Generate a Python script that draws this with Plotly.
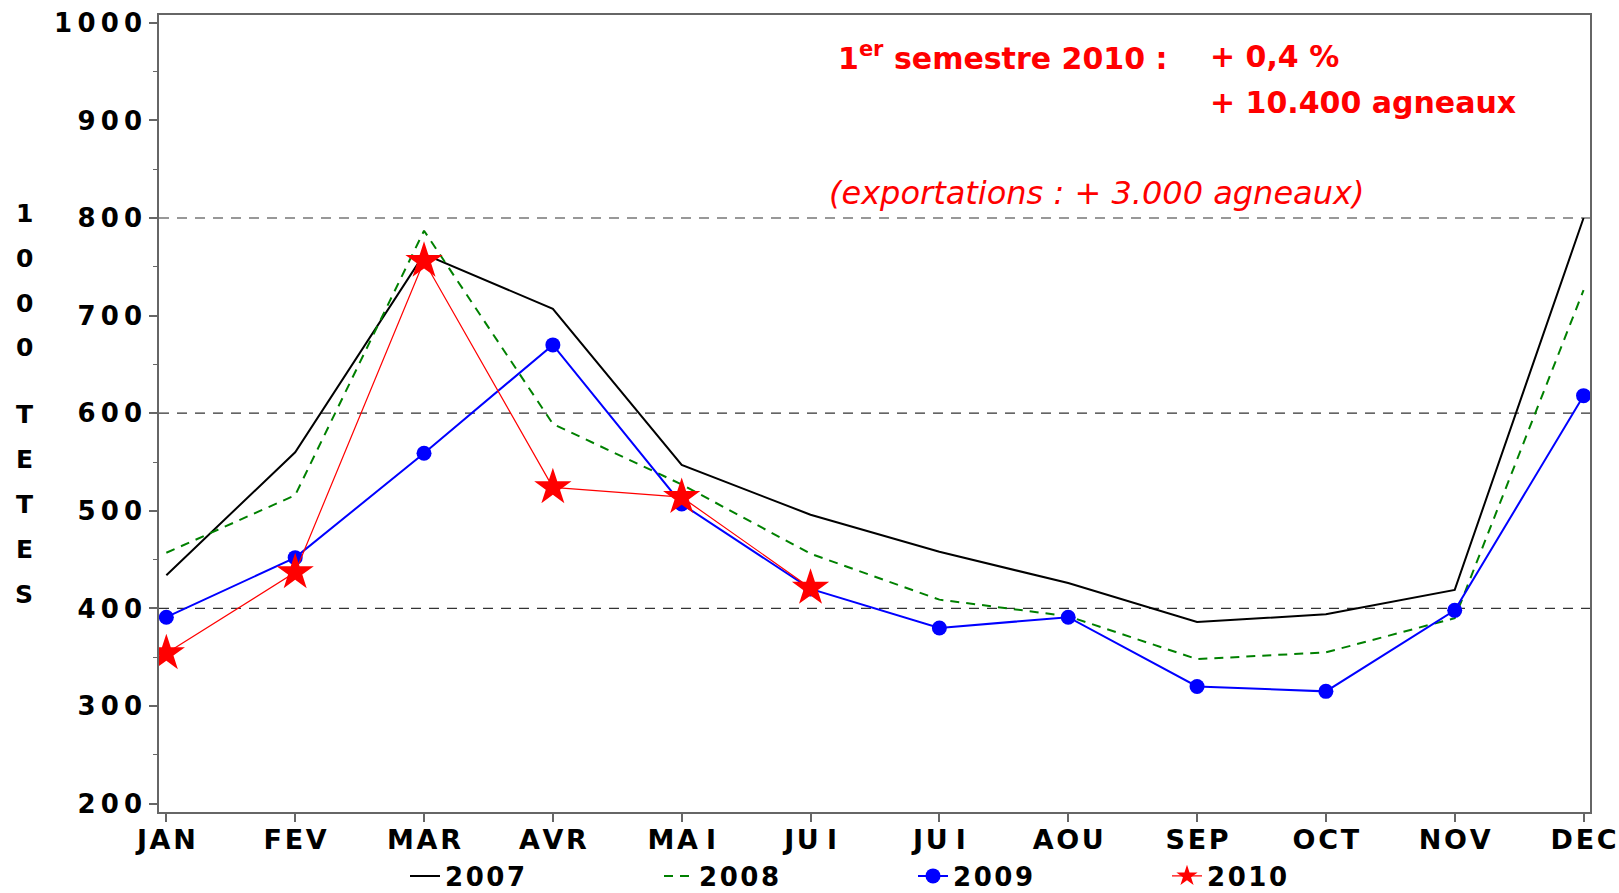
import plotly.graph_objects as go

# ---------------- data ----------------
month_labels = ["JAN", "FEV", "MAR", "AVR", "MA I", "JU I", "JU I", "AOU", "SEP", "OCT", "NOV", "DEC"]
month_index = [0, 1, 2, 3, 4, 5, 6, 7, 8, 9, 10, 11]
v2007 = [434, 560, 763, 707, 547, 496, 458, 426, 386, 394, 419, 800]
v2008 = [457, 516, 787, 589, 527, 456, 409, 392, 348, 355, 390, 726]
v2009 = [391, 452, 559, 670, 507, 420, 380, 391, 320, 315, 398, 618]
v2010 = [354, 437, 756, 524, 514, 421]
y_ticks = [200, 300, 400, 500, 600, 700, 800, 900, 1000]
grid_levels = [400, 600, 800]
series_names = ["2007", "2008", "2009", "2010"]

# ---------------- layout constants ----------------
W, H = 1619, 893
ML, MR, MT, MB = 159, 29, 15, 81
PW, PH = W - ML - MR, H - MT - MB
FONT = "DejaVu Sans"
THIN = "\u2009"
HAIR = "\u200a"


def spaced(s, sep):
    return sep.join(list(s))


def month_text(m):
    parts = m.split(" ")
    return (THIN + HAIR).join(spaced(p, HAIR) for p in parts)


def px_x(px):
    return (px - ML) / PW


def px_y(py):
    return (H - MB - py) / PH


fig = go.Figure()

fig.add_trace(go.Scatter(
    x=month_index, y=v2007, name=spaced(series_names[0], HAIR), mode="lines",
    line=dict(color="black", width=2)))
fig.add_trace(go.Scatter(
    x=month_index, y=v2008, name=spaced(series_names[1], HAIR), mode="lines",
    line=dict(color="#008000", width=2, dash="9px,7px")))
fig.add_trace(go.Scatter(
    x=month_index, y=v2009, name=spaced(series_names[2], HAIR), mode="lines+markers",
    line=dict(color="#0000ff", width=2),
    marker=dict(symbol="circle", size=15, color="#0000ff")))
fig.add_trace(go.Scatter(
    x=month_index[:len(v2010)], y=v2010, name=spaced(series_names[3], HAIR), mode="lines+markers",
    line=dict(color="#ff0000", width=1.2),
    marker=dict(symbol="star", size=28, color="#ff0000")))

for lvl in grid_levels:
    fig.add_hline(y=lvl, line=dict(color="#333333", width=1.2, dash="10px,8px"), layer="below")

# y-axis title as stacked characters
title_top = ["1", "0", "0", "0"]
title_bottom = ["T", "E", "T", "E", "S"]
for i, ch in enumerate(title_top):
    fig.add_annotation(x=px_x(24), y=px_y(214 + i * 44.6), xref="paper", yref="paper",
                       text=ch, showarrow=False, xanchor="center", yanchor="middle",
                       font=dict(family=FONT, size=25, color="black", weight="bold"))
for i, ch in enumerate(title_bottom):
    fig.add_annotation(x=px_x(24), y=px_y(414 + i * 45), xref="paper", yref="paper",
                       text=ch, showarrow=False, xanchor="center", yanchor="middle",
                       font=dict(family=FONT, size=25, color="black", weight="bold"))

# red notes
red_font = dict(family=FONT, size=30, color="#ff0000", weight="bold")
fig.add_annotation(x=px_x(836), y=px_y(56), xref="paper", yref="paper",
                   text="1<sup>er</sup> semestre 2010 :", showarrow=False,
                   xanchor="left", yanchor="middle", font=red_font)
fig.add_annotation(x=px_x(1208), y=px_y(57), xref="paper", yref="paper",
                   text="+ 0,4 %", showarrow=False,
                   xanchor="left", yanchor="middle", font=red_font)
fig.add_annotation(x=px_x(1208), y=px_y(102), xref="paper", yref="paper",
                   text="+ 10.400 agneaux", showarrow=False,
                   xanchor="left", yanchor="middle", font=red_font)
fig.add_annotation(x=px_x(827), y=px_y(193), xref="paper", yref="paper",
                   text="<i>(exportations : + 3.000 agneaux)</i>", showarrow=False,
                   xanchor="left", yanchor="middle",
                   font=dict(family=FONT, size=32, color="#ff0000"))

axis_color = "#666666"
fig.update_xaxes(
    range=[-0.057, 11.05], tickmode="array", tickvals=month_index,
    ticktext=[month_text(m) for m in month_labels],
    ticks="outside", ticklen=8, tickwidth=1.5, tickcolor=axis_color,
    showline=True, linecolor=axis_color, linewidth=1.5, mirror=True,
    showgrid=False, zeroline=False,
    tickfont=dict(family=FONT, size=27, color="black", weight="bold"),
    ticklabelstandoff=-5, ticklabeloverflow="allow", automargin=False,
)
fig.update_yaxes(
    range=[191.4, 1008], tickmode="array", tickvals=y_ticks,
    ticktext=[spaced(str(v), THIN) for v in y_ticks],
    ticks="outside", ticklen=8, tickwidth=1.5, tickcolor=axis_color,
    minor=dict(dtick=50, ticks="outside", ticklen=4, tickwidth=1, tickcolor=axis_color, showgrid=False),
    showline=True, linecolor=axis_color, linewidth=1.5, mirror=True,
    showgrid=False, zeroline=False,
    tickfont=dict(family=FONT, size=26, color="black", weight="bold"),
    ticklabelstandoff=2, automargin=False,
)

fig.update_layout(
    width=W, height=H,
    margin=dict(l=ML, r=MR, t=MT, b=MB, pad=0, autoexpand=False),
    paper_bgcolor="white", plot_bgcolor="white",
    showlegend=True,
    legend=dict(orientation="h", x=px_x(405), xanchor="left", y=px_y(876), yanchor="middle",
                font=dict(family=FONT, size=26, color="black", weight="bold"),
                entrywidth=209, entrywidthmode="pixels", bgcolor="rgba(0,0,0,0)",
                itemsizing="trace"),
)

fig.write_html("out.html", config={"displayModeBar": False},
               post_script="document.body.style.margin='0px';document.body.style.overflow='hidden';")
